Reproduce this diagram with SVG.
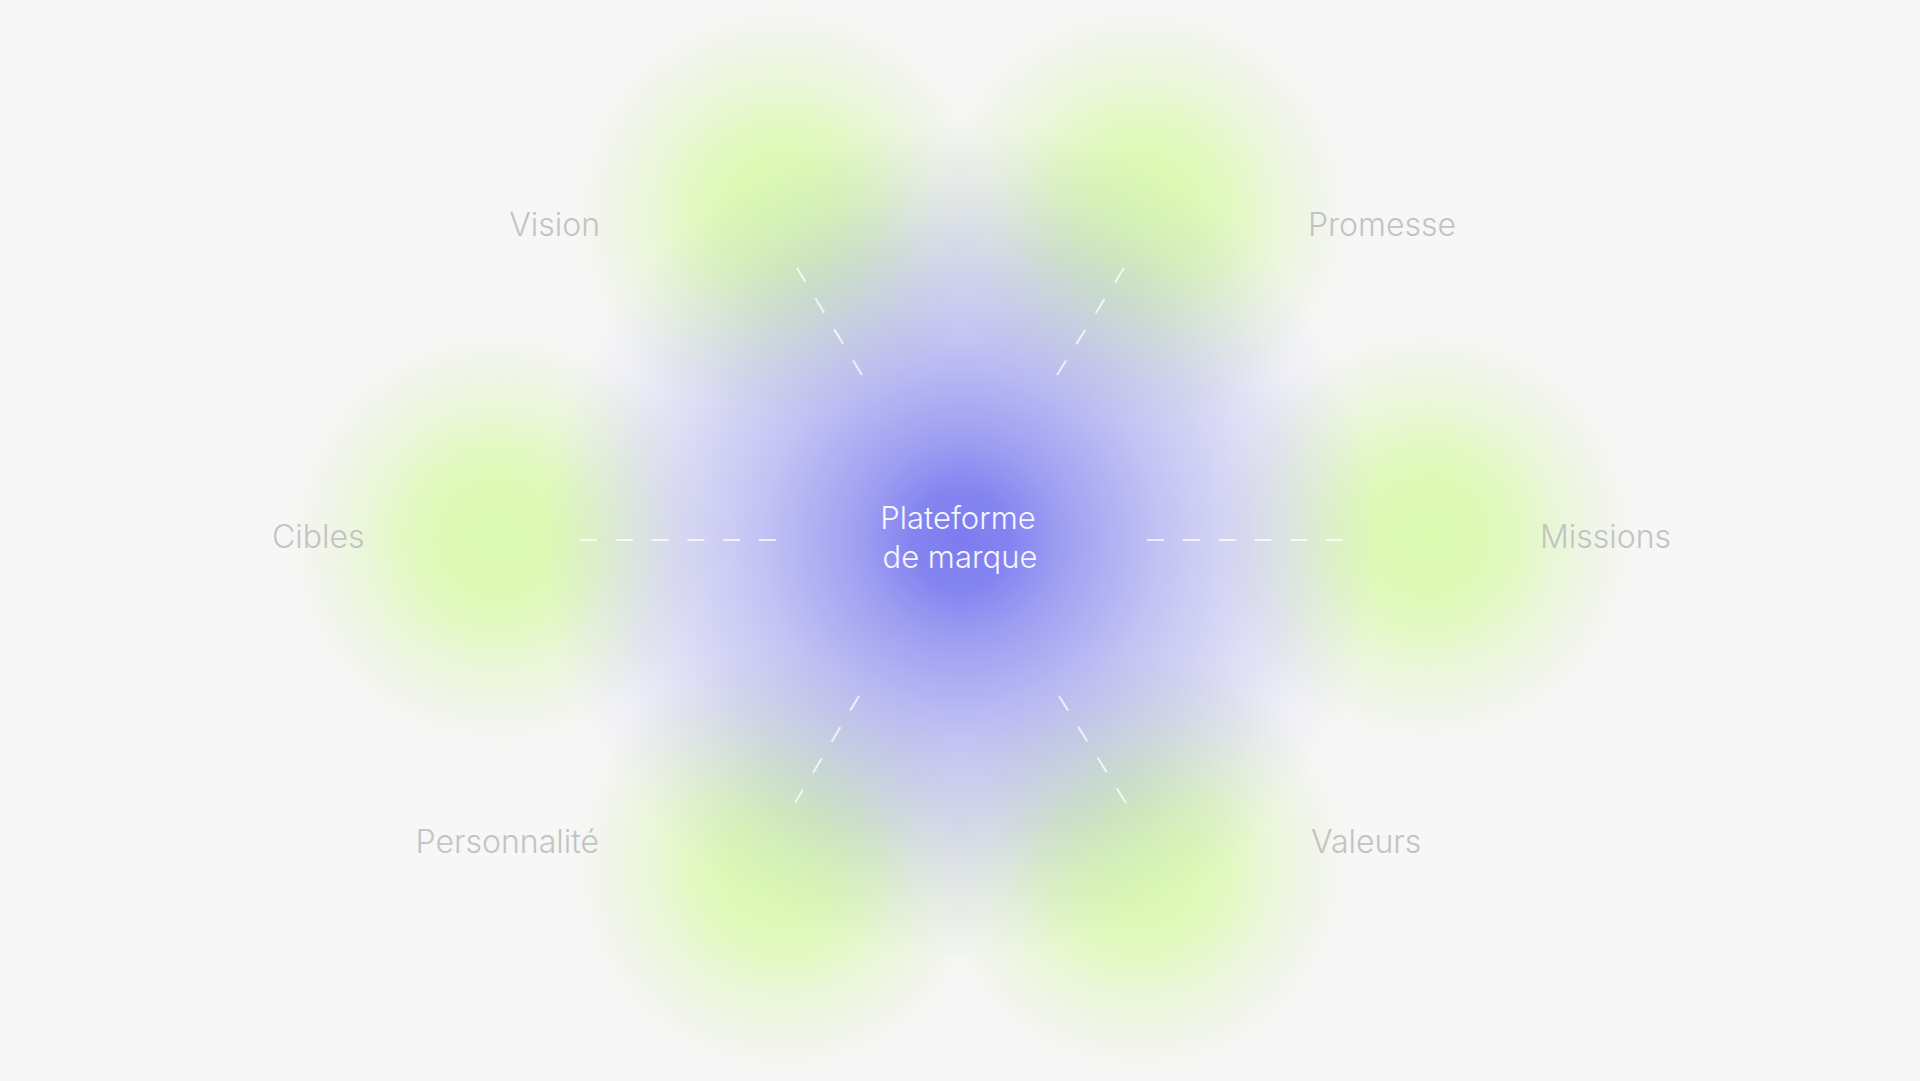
<svg xmlns="http://www.w3.org/2000/svg" width="1920" height="1081" viewBox="0 0 1920 1081">
  <defs>
    <radialGradient id="halo" cx="0.5" cy="0.5" r="0.5">
      <stop offset="0" stop-color="#ebebe4" stop-opacity="0.25"/>
      <stop offset="0.88" stop-color="#ebebe4" stop-opacity="0.22"/>
      <stop offset="1" stop-color="#ebebe4" stop-opacity="0"/>
    </radialGradient>
    <radialGradient id="green" cx="0.5" cy="0.5" r="0.5">
      <stop offset="0" stop-color="#dcfab2" stop-opacity="1"/>
      <stop offset="0.25" stop-color="#dcfab2" stop-opacity="0.95"/>
      <stop offset="0.45" stop-color="#dcfab2" stop-opacity="0.7"/>
      <stop offset="0.6" stop-color="#dcfab2" stop-opacity="0.42"/>
      <stop offset="0.8" stop-color="#dcfab2" stop-opacity="0.14"/>
      <stop offset="1" stop-color="#dcfab2" stop-opacity="0"/>
    </radialGradient>
    <radialGradient id="purple" cx="0.5" cy="0.5" r="0.5">
      <stop offset="0" stop-color="#7c7cf0" stop-opacity="1"/>
      <stop offset="0.12" stop-color="#7c7cf0" stop-opacity="0.93"/>
      <stop offset="0.24" stop-color="#7c7cf0" stop-opacity="0.72"/>
      <stop offset="0.48" stop-color="#7c7cf0" stop-opacity="0.42"/>
      <stop offset="0.72" stop-color="#7c7cf0" stop-opacity="0.2"/>
      <stop offset="0.86" stop-color="#7c7cf0" stop-opacity="0.08"/>
      <stop offset="1" stop-color="#7c7cf0" stop-opacity="0"/>
    </radialGradient>
  </defs>
  <style>
    .label { font-family: Inter, "Liberation Sans", sans-serif; font-size: 32px; font-weight: 300; fill: #c3c3c3; }
    .center { font-family: Inter, "Liberation Sans", sans-serif; font-size: 31px; font-weight: 300; fill: #f6f6ff; text-anchor: middle; }
    .halo { fill: url(#halo); }
    .blob { fill: url(#green); }
    .dash { stroke: #ffffff; stroke-opacity: 0.75; stroke-width: 2; fill: none; }
    .dh { stroke-dasharray: 17 18.8; }
    .dd { stroke-dasharray: 17 19.4; }
  </style>
  <rect x="0" y="0" width="1920" height="1081" fill="#f7f7f7"/>

  <g id="node-vision">
    <circle class="halo" cx="782" cy="213" r="205"/>
    <circle class="blob" cx="782" cy="213" r="215"/>
    <text class="label" x="600" y="236" text-anchor="end">Vision</text>
  </g>
  <g id="node-promesse">
    <circle class="halo" cx="1142" cy="213" r="205"/>
    <circle class="blob" cx="1142" cy="213" r="215"/>
    <text class="label" x="1308" y="236">Promesse</text>
  </g>
  <g id="node-cibles">
    <circle class="halo" cx="497" cy="538" r="205"/>
    <circle class="blob" cx="497" cy="538" r="215"/>
    <text class="label" x="272" y="548">Cibles</text>
  </g>
  <g id="node-missions">
    <circle class="halo" cx="1427" cy="536" r="205"/>
    <circle class="blob" cx="1427" cy="536" r="215"/>
    <text class="label" x="1671" y="548" text-anchor="end">Missions</text>
  </g>
  <g id="node-personnalite">
    <circle class="halo" cx="782" cy="865" r="205"/>
    <circle class="blob" cx="782" cy="865" r="215"/>
    <text class="label" x="599" y="853" text-anchor="end">Personnalité</text>
  </g>
  <g id="node-valeurs">
    <circle class="halo" cx="1140" cy="865" r="205"/>
    <circle class="blob" cx="1140" cy="865" r="215"/>
    <text class="label" x="1311" y="853">Valeurs</text>
  </g>

  <g id="node-center">
    <circle cx="961" cy="540" r="420" fill="url(#purple)"/>
    <text class="center" x="958" y="529">Plateforme</text>
    <text class="center" x="960" y="568">de marque</text>
  </g>

  <g id="connectors">
    <line class="dash dh" x1="776" y1="540" x2="580" y2="540"/>
    <line class="dash dh" x1="1147" y1="540" x2="1343" y2="540"/>
    <line class="dash dd" x1="862" y1="375" x2="797" y2="268"/>
    <line class="dash dd" x1="1057" y1="375" x2="1124" y2="268"/>
    <line class="dash dd" x1="859" y1="696" x2="795" y2="803"/>
    <line class="dash dd" x1="1059" y1="696" x2="1126" y2="803"/>
  </g>
</svg>
